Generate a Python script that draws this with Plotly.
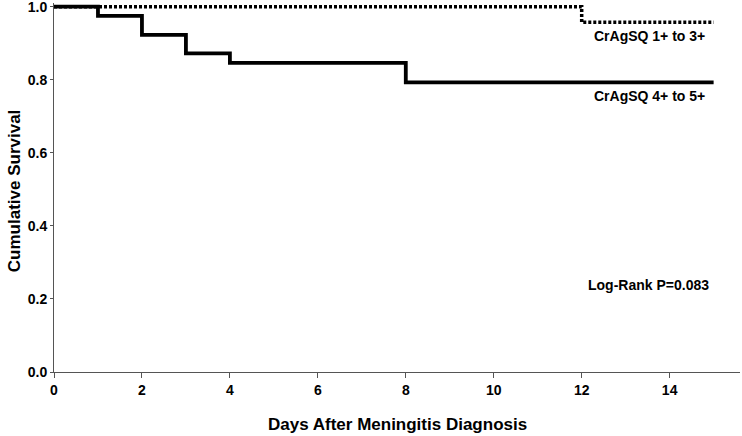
import plotly.graph_objects as go

# Kaplan-Meier step data
days_low = [0, 12, 15]
surv_low = [1.0, 0.957, 0.957]
days_high = [0, 1, 2, 3, 4, 8, 15]
surv_high = [1.0, 0.975, 0.923, 0.872, 0.846, 0.793, 0.793]

x_ticks = [0, 2, 4, 6, 8, 10, 12, 14]
y_ticks = [0.0, 0.2, 0.4, 0.6, 0.8, 1.0]

FONT = "Liberation Sans Narrow, Arial Narrow, Liberation Sans, Arial, sans-serif"

fig = go.Figure()
fig.add_trace(go.Scatter(x=days_low, y=surv_low, mode="lines", line_shape="hv",
                         line=dict(color="black", width=3.5, dash="3px,2px"), name="CrAgSQ 1+ to 3+"))
fig.add_trace(go.Scatter(x=days_high, y=surv_high, mode="lines", line_shape="hv",
                         line=dict(color="black", width=3.8), name="CrAgSQ 4+ to 5+"))

fig.add_annotation(x=14.84, y=0.92, text="<b>CrAgSQ 1+ to 3+</b>", showarrow=False,
                   xanchor="right", yanchor="middle", font=dict(size=14, color="black", family=FONT))
fig.add_annotation(x=14.84, y=0.755, text="<b>CrAgSQ 4+ to 5+</b>", showarrow=False,
                   xanchor="right", yanchor="middle", font=dict(size=14, color="black", family=FONT))
fig.add_annotation(x=14.95, y=0.239, text="<b>Log-Rank P=0.083</b>", showarrow=False,
                   xanchor="right", yanchor="middle", font=dict(size=14, color="black", family=FONT))

# axis titles
fig.add_annotation(xref="paper", yref="paper", x=0.5, y=-0.1436,
                   text="<b>Days After Meningitis Diagnosis</b>", showarrow=False,
                   xanchor="center", yanchor="middle", font=dict(size=17, color="black", family=FONT))
fig.add_annotation(xref="paper", yref="paper", x=-0.0583, y=0.49,
                   text="<b>Cumulative Survival</b>", showarrow=False, textangle=-90,
                   xanchor="center", yanchor="middle", font=dict(size=17, color="black", family=FONT))

fig.update_layout(
    width=742, height=436,
    margin=dict(l=54, r=2, t=3, b=64),
    plot_bgcolor="white", paper_bgcolor="white",
    showlegend=False,
    font=dict(family=FONT, color="black", size=14),
    xaxis=dict(range=[0, 15.6], tickvals=x_ticks, ticktext=[f"<b>{v}</b>" for v in x_ticks],
               showline=True, linecolor="#555", linewidth=1, ticks="outside", ticklen=5,
               tickcolor="#555", showgrid=False, zeroline=False, automargin=False,
               ticklabeloverflow="allow", tickfont=dict(size=14)),
    yaxis=dict(range=[0, 1.01], tickvals=y_ticks, ticktext=[f"<b>{v:.1f}</b>" for v in y_ticks],
               showline=True, linecolor="#555", linewidth=1, ticks="outside", ticklen=3,
               tickcolor="#555", showgrid=False, zeroline=False, automargin=False,
               ticklabeloverflow="allow", tickfont=dict(size=14)),
)

fig.write_html("out.html", config={"displayModeBar": False},
               post_script="document.body.style.margin='0';")
